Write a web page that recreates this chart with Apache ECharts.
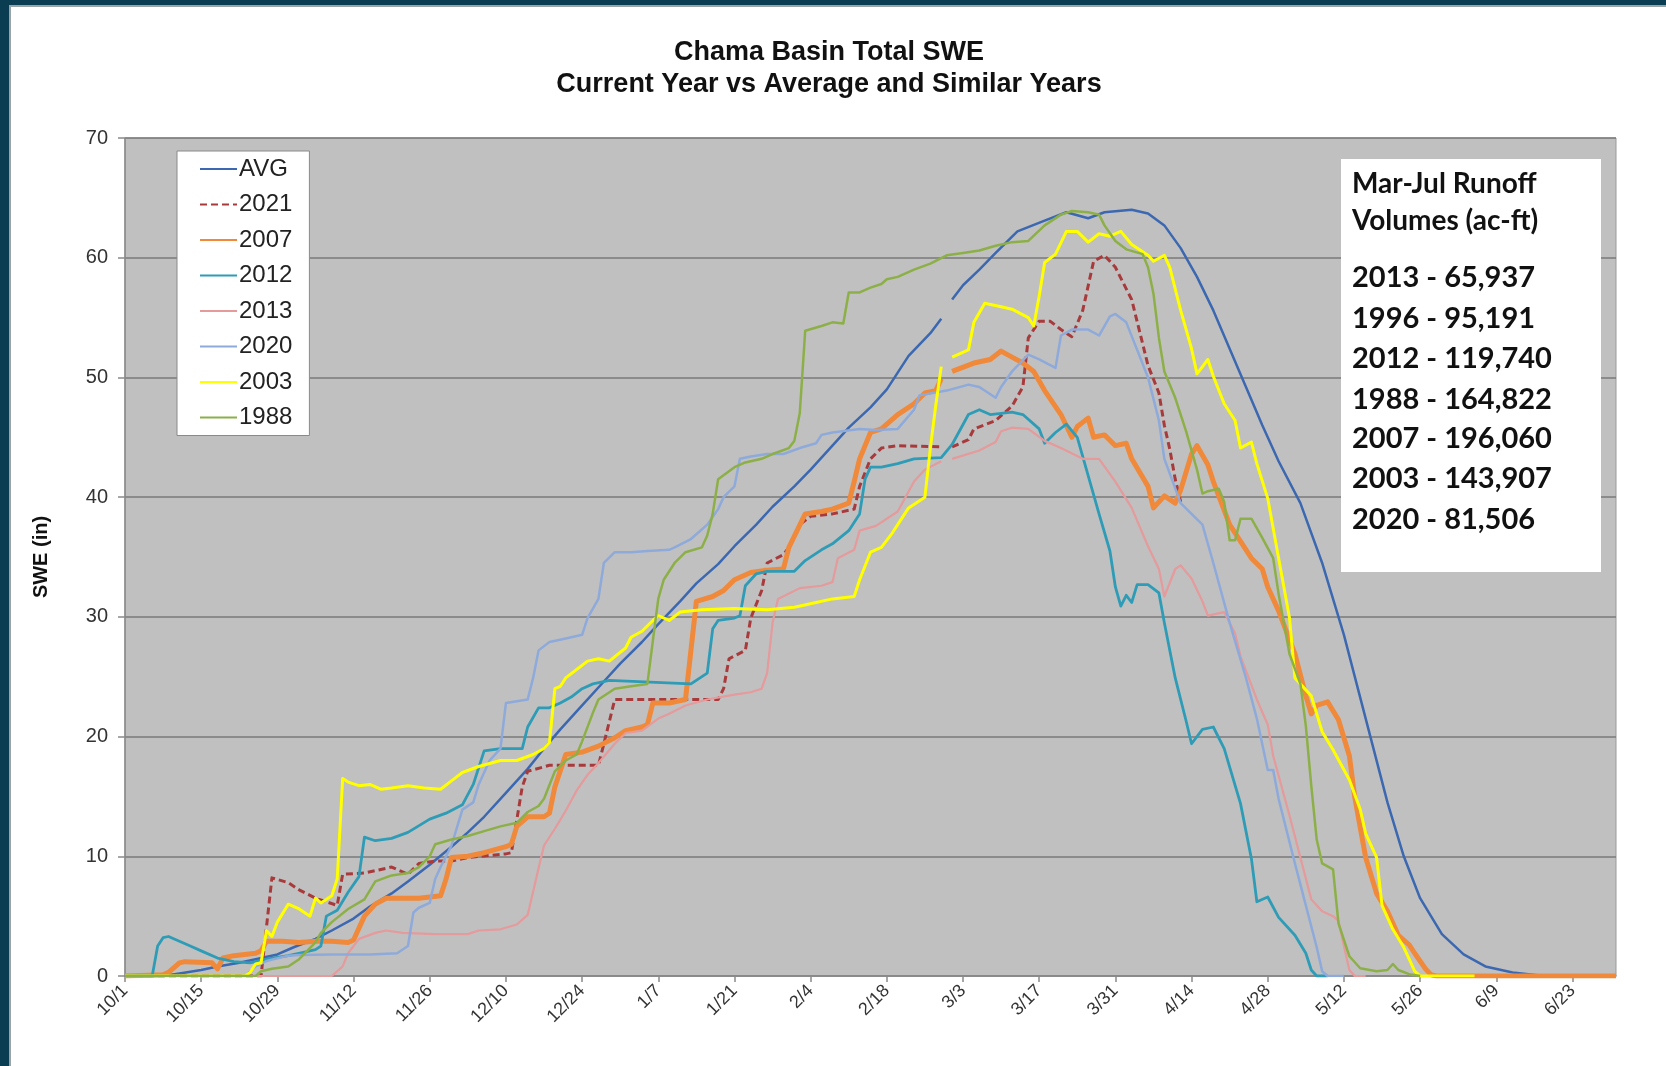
<!DOCTYPE html>
<html>
<head>
<meta charset="utf-8">
<script src="https://cdn.jsdelivr.net/npm/echarts@6/dist/echarts.min.js"></script>
<style>
html,body{margin:0;padding:0;background:#fff;}
#chart{width:1666px;height:1066px;}
</style>
</head>
<body>
<div id="chart"></div>
<script>
// Day index: 10/1 = 0 (leap-year calendar, 2/29 = 151)
const tickDays = [0,14,28,42,56,70,84,98,112,126,140,154,168,182,196,210,224,238,252,266];
const tickLabels = ['10/1','10/15','10/29','11/12','11/26','12/10','12/24','1/7','1/21','2/4','2/18','3/3','3/17','3/31','4/14','4/28','5/12','5/26','6/9','6/23'];
const seriesNames = ['AVG','2021','2007','2012','2013','2020','2003','1988'];

const avg = [[0,0],[7,0],[10,0.2],[14,0.5],[17,0.8],[21,1.1],[24,1.4],[28,1.8],[31,2.4],[35,3.1],[38,3.8],[42,4.8],[45,5.8],[49,6.9],[52,7.9],[56,9.3],[60,10.8],[63,12],[66,13.3],[70,15.3],[74,17.3],[77,19],[80,20.6],[84,22.6],[88,24.6],[91,26.1],[95,27.9],[98,29.4],[102,31.3],[105,32.8],[109,34.4],[112,35.9],[116,37.7],[119,39.2],[123,40.9],[126,42.3],[130,44.3],[133,45.8],[137,47.5],[140,49],[144,51.8],[148,53.7],[150,54.9],[151,'-'],[152,56.5],[154,57.7],[157,59],[160,60.4],[164,62.2],[169,63.1],[173,63.8],[177,63.3],[180,63.8],[185,64],[188,63.7],[191,62.7],[194,60.8],[197,58.4],[200,55.6],[203,52.4],[206,49.2],[209,46],[212,43],[216,39.5],[220,34.5],[224,28.5],[228,21.5],[232,14.5],[235,10],[238,6.5],[242,3.5],[246,1.8],[250,0.8],[255,0.3],[260,0.05],[264,0],[274,0]];

const y2021 = [[0,0],[25,0],[27,8.2],[30,7.8],[32,7.2],[35,6.5],[39,5.9],[40,8.5],[44,8.6],[49,9.1],[52,8.5],[54,9.4],[57,9.6],[60,9.6],[63,9.9],[70,10.2],[71,10.3],[73,15.8],[74,17.1],[78,17.6],[87,17.6],[88,19.4],[90,23.1],[100,23.1],[109,23.1],[110,24],[111,26.5],[114,27.2],[115,29.9],[117,32.2],[118,34.5],[121,35.2],[122,35.8],[124,37.7],[126,38.4],[130,38.6],[134,39],[135,40.9],[137,43.2],[139,44.1],[142,44.3],[150,44.2],[151,'-'],[152,44.2],[155,44.8],[156,45.7],[160,46.4],[163,47.6],[165,49.2],[166,53.3],[168,54.7],[170,54.7],[172,54],[174,53.4],[176,55.6],[178,59.7],[180,60.2],[182,59.2],[184,57.4],[185,56.5],[188,51],[190,48.7],[191,46],[192,44],[193,41.5],[194,39.6]];

const y2007 = [[0,0],[7,0.1],[8,0.3],[10,1.1],[11,1.2],[16,1.1],[17,0.6],[18,1.5],[20,1.7],[24,1.9],[25,2.1],[26,2.9],[29,2.9],[32,2.8],[35,2.9],[38,2.9],[41,2.8],[42,3],[44,5],[46,6],[48,6.5],[54,6.5],[58,6.7],[59,8.1],[60,9.9],[63,10],[66,10.3],[70,10.8],[71,11],[72,12.5],[74,13.3],[77,13.3],[78,13.6],[79,15.8],[81,18.5],[84,18.7],[87,19.2],[90,19.9],[92,20.5],[95,20.8],[96,21],[97,22.8],[100,22.8],[103,23.1],[104,27.2],[105,31.3],[108,31.7],[110,32.2],[112,33.1],[115,33.7],[118,33.9],[121,34],[122,35.8],[125,38.6],[128,38.8],[130,39],[133,39.5],[134,41.3],[135,43.2],[137,45.4],[139,45.7],[142,46.9],[145,47.8],[147,48.7],[149,48.9],[150,49.9],[151,'-'],[152,50.5],[156,51.2],[159,51.5],[161,52.2],[163,51.7],[165,51.2],[167,50.5],[169,48.9],[172,46.9],[174,45],[175,45.9],[177,46.6],[178,45],[180,45.2],[182,44.3],[184,44.5],[185,43.2],[188,40.9],[189,39.1],[191,40.1],[193,39.5],[194,40.6],[196,43.6],[197,44.3],[199,42.7],[200,41.3],[203,37.7],[205,36.3],[207,34.9],[209,34],[210,32.5],[212,30.5],[215,26.9],[217,23.4],[218,21.9],[219,22.6],[221,22.9],[223,21.4],[225,18.4],[226,14.9],[228,9.9],[230,6.9],[232,5.4],[234,3.4],[236,2.6],[237,1.9],[239,0.6],[240,0.1],[241,0],[274,0]];

const y2012 = [[0,0],[5,0],[6,2.5],[7,3.2],[8,3.3],[10,2.9],[12,2.5],[14,2.1],[17,1.5],[20,1.2],[23,1.1],[26,1.4],[30,1.7],[33,2],[35,2.2],[36,2.5],[37,5],[39,5.5],[41,7],[43,8.3],[44,11.6],[46,11.3],[49,11.5],[52,12],[56,13.1],[59,13.6],[62,14.3],[64,16],[66,18.8],[69,19],[73,19],[74,20.8],[76,22.4],[78,22.4],[80,22.8],[82,23.3],[84,24],[86,24.4],[89,24.7],[104,24.4],[107,25.3],[108,29],[109,29.7],[112,29.9],[113,30.1],[114,32.6],[116,33.6],[118,33.8],[123,33.8],[125,34.7],[128,35.6],[130,36.1],[133,37.2],[135,38.6],[136,41.5],[137,42.5],[139,42.5],[142,42.8],[145,43.2],[150,43.3],[152,44.4],[155,46.9],[157,47.3],[159,46.9],[163,47.1],[165,46.9],[168,45.7],[169,44.5],[171,45.4],[173,46.1],[175,45],[179,38.6],[181,35.5],[182,32.5],[183,30.9],[184,31.8],[185,31.2],[186,32.7],[188,32.7],[190,32],[191,29.5],[193,24.9],[195,21.3],[196,19.4],[198,20.6],[200,20.8],[202,19],[205,14.4],[207,9.8],[208,6.2],[210,6.6],[212,4.9],[215,3.4],[217,1.9],[218,0.5],[219,0],[221,0]];

const y2013 = [[0,0],[38,0],[40,0.8],[41,1.9],[43,3.1],[46,3.6],[48,3.8],[51,3.6],[57,3.5],[63,3.5],[65,3.8],[69,3.9],[72,4.3],[74,5.1],[76,9],[77,10.9],[79,12.3],[81,13.8],[83,15.5],[85,16.8],[87,17.8],[90,19.4],[92,20.3],[95,20.5],[98,21.5],[100,21.9],[103,22.6],[107,23.1],[112,23.5],[115,23.7],[117,24],[118,25.3],[119,29.5],[120,31.5],[124,32.4],[128,32.6],[130,32.9],[131,34.9],[134,35.6],[135,37.2],[138,37.6],[142,38.8],[145,41.3],[147,42.3],[150,43],[151,'-'],[152,43.2],[157,43.9],[160,44.6],[161,45.5],[163,45.8],[166,45.7],[169,44.7],[172,44.1],[176,43.2],[179,43.2],[182,41.3],[185,39.1],[188,35.9],[190,34],[191,31.7],[193,34],[194,34.3],[196,33.2],[198,31.3],[199,30.1],[202,30.4],[204,28.6],[205,26.7],[208,23.1],[210,21],[211,18.4],[214,13.4],[216,9.9],[218,6.4],[220,5.4],[222,5],[223,4.6],[224,2.5],[225,0.5],[226,0],[228,0]];

const y2020 = [[0,0],[22,0],[24,0.8],[26,1.25],[30,1.7],[32,1.75],[38,1.8],[45,1.8],[50,1.9],[52,2.5],[53,5.3],[54,5.7],[56,6.1],[57,8.1],[58,9.1],[60,10.9],[62,13.9],[64,14.5],[65,16],[67,18],[69,19],[70,22.8],[74,23.1],[75,24.9],[76,27.2],[78,27.9],[81,28.2],[84,28.5],[85,29.9],[87,31.5],[88,34.5],[90,35.4],[93,35.4],[96,35.5],[100,35.6],[101,35.8],[104,36.5],[107,37.7],[109,39],[110,40],[112,40.9],[113,43.2],[115,43.4],[118,43.6],[121,43.6],[124,44.1],[127,44.5],[128,45.2],[130,45.4],[135,45.7],[138,45.6],[142,45.7],[145,47.3],[146,48.5],[151,48.9],[155,49.4],[157,49.2],[160,48.3],[161,49.2],[163,50.5],[166,51.9],[168,51.5],[171,50.8],[172,53.5],[174,54],[177,54],[179,53.5],[181,55.1],[182,55.3],[184,54.6],[186,52.3],[188,50],[190,46.4],[191,43.2],[194,39.5],[196,38.6],[198,37.7],[200,34.5],[203,29.5],[206,24.9],[208,21.5],[210,17.2],[211,17.2],[212,14.8],[215,9.4],[217,5.9],[219,2.4],[220,0.4],[221,0],[224,0]];

const y2003 = [[0,0],[22,0],[23,0.3],[24,1],[25,1.1],[26,3.8],[27,3.3],[28,4.5],[30,6],[32,5.6],[34,5],[35,6.5],[36,6.1],[38,6.7],[39,8.1],[40,16.5],[41,16.2],[43,15.9],[45,16],[47,15.6],[49,15.7],[52,15.9],[55,15.7],[58,15.6],[60,16.3],[62,17],[65,17.5],[69,18],[72,18],[75,18.5],[77,19],[78,19.5],[79,24],[80,24.2],[81,24.9],[83,25.6],[85,26.3],[87,26.5],[89,26.3],[92,27.4],[93,28.3],[95,28.8],[97,29.7],[98,30.1],[100,29.7],[102,30.4],[106,30.6],[112,30.7],[118,30.6],[123,30.8],[127,31.2],[130,31.5],[134,31.7],[135,33.1],[137,35.4],[139,35.8],[141,37],[142,37.7],[144,39.1],[147,40],[148,44.1],[149,47.7],[150,50.9],[151,'-'],[152,51.7],[155,52.3],[156,54.6],[158,56.2],[161,55.9],[163,55.7],[166,55],[167,54.3],[168,56.8],[169,59.6],[171,60.3],[173,62.2],[175,62.2],[177,61.3],[179,62],[181,61.8],[183,62.2],[185,61.1],[188,60.2],[189,59.7],[191,60.2],[192,59.2],[194,55.6],[196,52.4],[197,50.3],[199,51.5],[200,50.1],[202,47.8],[204,46.4],[205,44.1],[207,44.6],[208,42.8],[210,39.9],[212,34.9],[214,29.9],[215,24.9],[218,23.4],[220,20.4],[222,18.9],[225,16.4],[227,13.9],[228,11.9],[230,9.9],[231,5.9],[233,3.9],[235,2.4],[236,1.4],[237,0.4],[238,0],[248,0]];

const y1988 = [[0,0],[24,0],[25,0.4],[27,0.6],[30,0.8],[32,1.4],[35,2.8],[36,3.6],[38,4.5],[41,5.6],[44,6.4],[46,7.9],[49,8.4],[52,8.6],[54,9.1],[56,10],[57,11],[60,11.4],[63,11.7],[66,12.1],[69,12.5],[72,12.8],[74,13.7],[76,14.2],[77,14.8],[79,17.1],[81,18],[83,18.5],[84,19.6],[86,22],[87,23.1],[90,24],[93,24.2],[96,24.4],[97,28],[98,31.5],[99,33.1],[101,34.5],[103,35.4],[106,35.8],[107,36.8],[108,38.6],[109,41.5],[112,42.5],[114,42.9],[117,43.2],[119,43.6],[122,44.1],[123,44.7],[124,47],[125,53.9],[128,54.3],[130,54.6],[132,54.5],[133,57.1],[135,57.1],[137,57.5],[139,57.8],[140,58.2],[142,58.4],[145,59],[148,59.5],[151,60.2],[154,60.4],[157,60.6],[160,61],[163,61.3],[166,61.4],[169,62.7],[172,63.6],[174,63.9],[177,63.8],[179,63.6],[180,62.7],[182,61.4],[184,60.7],[187,60.3],[188,59.2],[189,57],[190,53.3],[191,50.5],[193,48.3],[195,45.5],[197,42.3],[198,40.3],[199,40.5],[201,40.7],[202,39.6],[203,36.4],[204,36.4],[205,38.2],[207,38.2],[209,36.6],[211,34.9],[212,31.9],[214,26.9],[216,24.4],[217,20.9],[218,15.9],[219,11.4],[220,9.4],[222,8.9],[223,4.4],[225,1.65],[227,0.65],[230,0.4],[232,0.5],[233,1],[234,0.5],[236,0.15],[238,0]];

const runoffHeader = ['Mar-Jul Runoff','Volumes (ac-ft)'];
const runoffLines = ['2013 - 65,937','1996 - 95,191','2012 - 119,740','1988 - 164,822','2007 - 196,060','2003 - 143,907','2020 - 81,506'];

const seriesData = [avg, y2021, y2007, y2012, y2013, y2020, y2003, y1988];
const colors = ['#3B68B0','#A83A3C','#F0893A','#2E9CB6','#E59A9C','#8EAADA','#FFFF00','#8CB047'];
const widths = [2.5, 3, 5, 2.8, 2.2, 2.5, 3, 2.5];

const FONT = '"Liberation Sans", Arial, sans-serif';
const chart = echarts.init(document.getElementById('chart'), null, {renderer:'canvas'});

const graphics = [
  {type:'rect', shape:{x:0,y:0,width:1666,height:5}, style:{fill:'#0B3D52'}, z:100},
  {type:'rect', shape:{x:0,y:5,width:1666,height:2}, style:{fill:'#9AA3A8'}, z:100},
  {type:'rect', shape:{x:0,y:0,width:9,height:1066}, style:{fill:'#0B3D52'}, z:100},
  {type:'rect', shape:{x:9,y:5,width:2,height:1061}, style:{fill:'#9AA3A8'}, z:100},
  {type:'rect', shape:{x:1341,y:159,width:260,height:413}, style:{fill:'#FFFFFF'}, z:50}
];
const headerY = [184, 221];
runoffHeader.forEach((t,i)=>graphics.push({type:'text', x:1352, y:headerY[i], z:51,
  style:{text:t, fill:'#111', font:'bold 28px Lato, "Open Sans", sans-serif', textVerticalAlign:'middle'}}));
const lineY = [278, 319, 359, 400, 439, 479, 520];
runoffLines.forEach((t,i)=>graphics.push({type:'text', x:1352, y:lineY[i], z:51,
  style:{text:t, fill:'#111', font:'bold 29px Lato, "Open Sans", sans-serif', textVerticalAlign:'middle'}}));

const option = {
  animation:false,
  backgroundColor:'#FFFFFF',
  title:{
    text:'Chama Basin Total SWE\nCurrent Year vs Average and Similar Years',
    left:829, top:37, textAlign:'center', padding:0,
    textStyle:{fontFamily:FONT, fontSize:27, fontWeight:'bold', color:'#111', lineHeight:32}
  },
  legend:{
    orient:'vertical', left:177, top:151,
    data:seriesNames,
    backgroundColor:'#FFFFFF', borderColor:'#8A8A8A', borderWidth:1,
    padding:[5,17,5,22], itemWidth:37, itemHeight:14, itemGap:9.5,
    itemStyle:{color:'rgba(0,0,0,0)', borderWidth:0, opacity:0},
    textStyle:{fontFamily:FONT, fontSize:24, lineHeight:26, color:'#222', padding:[0,0,0,-3]}
  },
  grid:{left:125, top:138, width:1491, height:838, show:true, backgroundColor:'#C0C0C0', borderColor:'#9A9A9A', borderWidth:1},
  xAxis:{
    type:'value', min:0, max:274, interval:14,
    axisLine:{show:true, lineStyle:{color:'#8A8A8A', width:1.5}},
    axisTick:{show:true, length:6, customValues:tickDays, lineStyle:{color:'#8A8A8A', width:1.5}},
    axisLabel:{customValues:tickDays, rotate:45, margin:12, fontFamily:FONT, fontSize:18, color:'#333',
      formatter:function(v){const i=tickDays.indexOf(v); return i>=0?tickLabels[i]:'';}},
    splitLine:{show:false}
  },
  yAxis:{
    type:'value', min:0, max:70, interval:10,
    name:'SWE (in)', nameLocation:'middle', nameGap:74, nameRotate:90,
    nameTextStyle:{fontFamily:FONT, fontSize:20, fontWeight:'bold', color:'#111'},
    axisLine:{show:true, lineStyle:{color:'#8A8A8A', width:1.5}},
    axisTick:{show:true, length:7, lineStyle:{color:'#8A8A8A', width:1.5}},
    axisLabel:{margin:17, fontFamily:FONT, fontSize:20, color:'#333'},
    splitLine:{show:true, lineStyle:{color:'#7A7A7A', width:1.5}}
  },
  graphic:graphics,
  series:seriesNames.map((n,i)=>({
    name:n, type:'line', data:seriesData[i], showSymbol:false, symbol:'none',
    connectNulls:false, clip:true,
    itemStyle:{color:colors[i]},
    lineStyle:{color:colors[i], width:widths[i], type: n==='2021' ? [7,4] : 'solid', join:'round'}
  }))
};
chart.setOption(option);
</script>
</body>
</html>
